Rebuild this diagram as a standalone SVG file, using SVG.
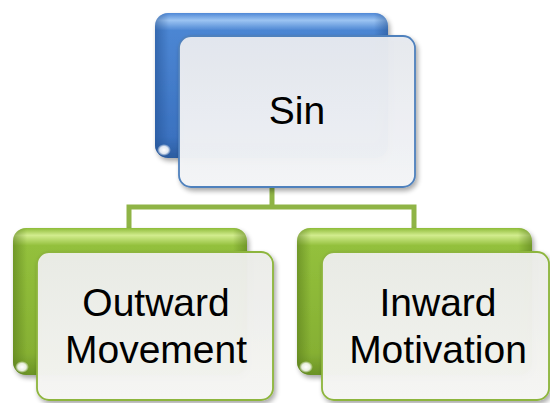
<svg xmlns="http://www.w3.org/2000/svg" width="550" height="403" viewBox="0 0 550 403">
  <defs>
    <linearGradient id="blueBack" x1="0" y1="0" x2="0" y2="1">
      <stop offset="0" stop-color="#4F88D6"/>
      <stop offset="0.05" stop-color="#9CC4F2"/>
      <stop offset="0.12" stop-color="#4C86D3"/>
      <stop offset="0.85" stop-color="#3B72C0"/>
      <stop offset="1" stop-color="#2C5C9F"/>
    </linearGradient>
    <linearGradient id="blueEdge" x1="0" y1="0" x2="1" y2="0">
      <stop offset="0" stop-color="#1F4C8C" stop-opacity="0.5"/>
      <stop offset="0.06" stop-color="#1F4C8C" stop-opacity="0"/>
      <stop offset="0.94" stop-color="#1F4C8C" stop-opacity="0"/>
      <stop offset="1" stop-color="#1F4C8C" stop-opacity="0.5"/>
    </linearGradient>
    <linearGradient id="greenBack" x1="0" y1="0" x2="0" y2="1">
      <stop offset="0" stop-color="#8DBB38"/>
      <stop offset="0.05" stop-color="#D2EC8E"/>
      <stop offset="0.12" stop-color="#93C03C"/>
      <stop offset="0.85" stop-color="#86B033"/>
      <stop offset="1" stop-color="#6A9226"/>
    </linearGradient>
    <linearGradient id="greenEdge" x1="0" y1="0" x2="1" y2="0">
      <stop offset="0" stop-color="#4E7015" stop-opacity="0.5"/>
      <stop offset="0.06" stop-color="#4E7015" stop-opacity="0"/>
      <stop offset="0.94" stop-color="#4E7015" stop-opacity="0"/>
      <stop offset="1" stop-color="#4E7015" stop-opacity="0.5"/>
    </linearGradient>
    <linearGradient id="frontBlue" x1="0" y1="0" x2="0" y2="1">
      <stop offset="0" stop-color="#E6E9EF"/>
      <stop offset="1" stop-color="#F4F5F7"/>
    </linearGradient>
    <linearGradient id="frontGreen" x1="0" y1="0" x2="0" y2="1">
      <stop offset="0" stop-color="#ECEDE9"/>
      <stop offset="1" stop-color="#F6F6F4"/>
    </linearGradient>
    <radialGradient id="shine" cx="0.5" cy="0.5" r="0.5">
      <stop offset="0" stop-color="#FFFFFF"/>
      <stop offset="0.6" stop-color="#FFFFFF" stop-opacity="0.85"/>
      <stop offset="1" stop-color="#FFFFFF" stop-opacity="0"/>
    </radialGradient>
    <filter id="shadow" x="-10%" y="-10%" width="125%" height="125%">
      <feGaussianBlur in="SourceAlpha" stdDeviation="2.5"/>
      <feOffset dx="2" dy="3" result="b"/>
      <feComponentTransfer><feFuncA type="linear" slope="0.35"/></feComponentTransfer>
      <feMerge><feMergeNode/><feMergeNode in="SourceGraphic"/></feMerge>
    </filter>
  </defs>
  <style>
    .conn { fill: none; stroke: #8FB446; stroke-width: 5; stroke-linejoin: miter; }
    .front-b { fill: url(#frontBlue); stroke: #4F81BD; stroke-width: 1.8; fill-opacity: 0.97; }
    .front-g { fill: url(#frontGreen); stroke: #8DB53C; stroke-width: 1.8; fill-opacity: 0.97; }
    .label { font-family: "Liberation Sans", Arial, sans-serif; font-size: 39px; fill: #000000; text-anchor: middle; }
  </style>
  <rect width="550" height="403" fill="#FFFFFF"/>

  <g id="connectors">
    <polyline class="conn" points="272,187 272,207"/>
    <polyline class="conn" points="129,229 129,207 414,207 414,229"/>
  </g>

  <g id="node-sin">
    <rect x="155" y="13" width="233" height="145" rx="13" fill="url(#blueBack)" filter="url(#shadow)"/>
    <rect x="155" y="13" width="233" height="145" rx="13" fill="url(#blueEdge)"/>
    <ellipse cx="164" cy="150" rx="7" ry="6" fill="url(#shine)"/>
    <rect x="179" y="36" width="236" height="151" rx="12" class="front-b" filter="url(#shadow)"/>
    <text class="label" x="297" y="124">Sin</text>
  </g>

  <g id="node-outward">
    <rect x="13" y="228" width="234" height="147" rx="13" fill="url(#greenBack)" filter="url(#shadow)"/>
    <rect x="13" y="228" width="234" height="147" rx="13" fill="url(#greenEdge)"/>
    <ellipse cx="22" cy="367" rx="7" ry="6" fill="url(#shine)"/>
    <rect x="37" y="252" width="236" height="148" rx="12" class="front-g" filter="url(#shadow)"/>
    <text class="label" x="156" y="316">Outward</text>
    <text class="label" x="156" y="363">Movement</text>
  </g>

  <g id="node-inward">
    <rect x="297" y="228" width="235" height="147" rx="13" fill="url(#greenBack)" filter="url(#shadow)"/>
    <rect x="297" y="228" width="235" height="147" rx="13" fill="url(#greenEdge)"/>
    <ellipse cx="306" cy="367" rx="7" ry="6" fill="url(#shine)"/>
    <rect x="322" y="252" width="227" height="148" rx="12" class="front-g" filter="url(#shadow)"/>
    <text class="label" x="438" y="316">Inward</text>
    <text class="label" x="438" y="363">Motivation</text>
  </g>
</svg>
